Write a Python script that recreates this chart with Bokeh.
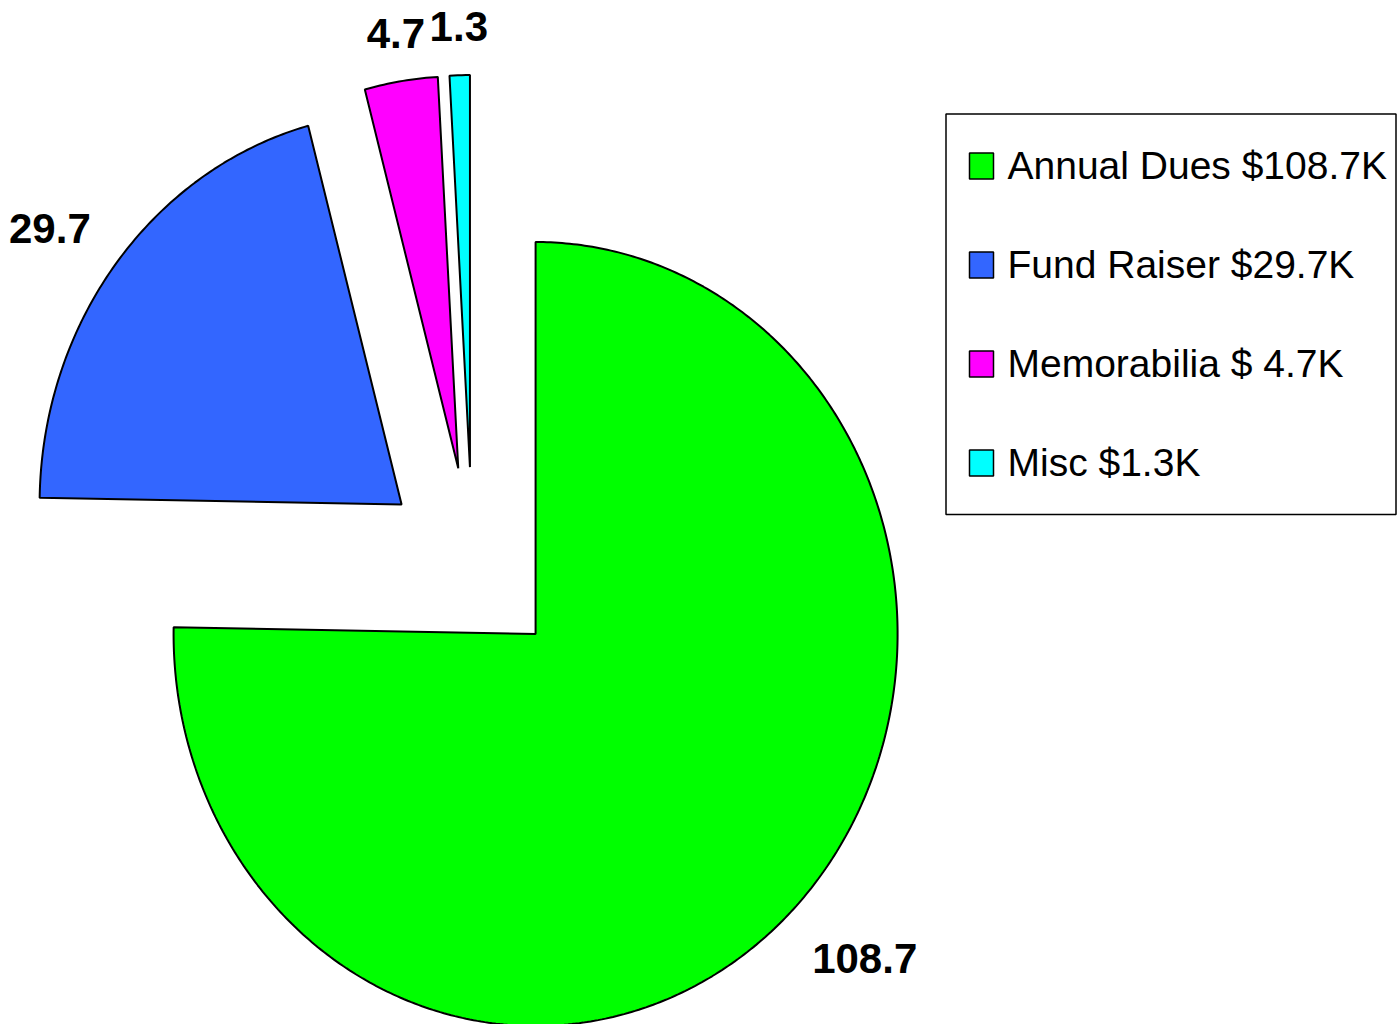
import numpy as np
from bokeh.plotting import figure
from bokeh.models import Range1d, ColumnDataSource
from bokeh.embed import file_html
from bokeh.resources import INLINE
from bokeh.core.properties import value

# ---- data ----
categories = ["Annual Dues", "Fund Raiser", "Memorabilia", "Misc"]
values = [108.7, 29.7, 4.7, 1.3]
data_labels = ["108.7", "29.7", "4.7", "1.3"]
legend_labels = ["Annual Dues $108.7K", "Fund Raiser $29.7K", "Memorabilia $ 4.7K", "Misc $1.3K"]
colors = ["#00FF00", "#3366FF", "#FF00FF", "#00FFFF"]

# ---- layout (pixel space) ----
W, H = 1397, 1024
CX, CY = 472.0, 564.0          # pie centre
RX, RY = 362.0, 392.0          # elliptical radii
EXPLODE = 90.0 / 362.0         # explosion as fraction of radius
LABEL_R = 1.09
FONT = "Liberation Sans"

p = figure(width=W, height=H, output_backend="svg", toolbar_location=None,
           x_range=Range1d(0, W), y_range=Range1d(H, 0),
           min_border=0, x_axis_location=None, y_axis_location=None)
p.grid.visible = False
p.outline_line_color = None
p.background_fill_color = "white"
p.border_fill_color = "white"

total = float(sum(values))
cum = np.concatenate([[0.0], np.cumsum(values)]) / total * 2 * np.pi

xs, ys = [], []
label_info = []
for i, v in enumerate(values):
    t0, t1 = cum[i], cum[i + 1]
    mid = 0.5 * (t0 + t1)
    ax = CX + EXPLODE * RX * np.sin(mid)
    ay = CY - EXPLODE * RY * np.cos(mid)
    n = max(3, int(np.ceil((t1 - t0) / (2 * np.pi) * 600)))
    th = np.linspace(t0, t1, n)
    px = np.concatenate([[ax], ax + RX * np.sin(th), [ax]])
    py = np.concatenate([[ay], ay - RY * np.cos(th), [ay]])
    xs.append(list(px))
    ys.append(list(py))
    dx, dy = np.sin(mid), -np.cos(mid)
    lx = ax + LABEL_R * RX * dx
    ly = ay + LABEL_R * RY * dy
    align = "left" if dx > 0.3 else ("right" if dx < -0.3 else "center")
    base = "top" if dy > 0.3 else "alphabetic"
    yoff = 5 if dy > 0.3 else -13
    label_info.append((lx, ly, align, base, yoff))

src = ColumnDataSource(dict(xs=xs, ys=ys, color=colors, name=categories))
p.patches("xs", "ys", source=src, fill_color="color", line_color="black", line_width=2)

for (lx, ly, align, base, yoff), txt in zip(label_info, data_labels):
    p.text(x=[lx], y=[ly], text=[txt], text_font=value(FONT), text_font_style="bold",
           text_font_size="42px", text_align=align, text_baseline=base,
           y_offset=yoff, text_color="black")

# ---- legend ----
LEG_L, LEG_R, LEG_T, LEG_B = 945.5, 1395.5, 113.5, 514.0
p.quad(left=[LEG_L], right=[LEG_R], top=[LEG_T], bottom=[LEG_B],
       fill_color="white", line_color="black", line_width=1.5)
ly0, lstep = 165.5, 99.0
ycent = [ly0 + i * lstep for i in range(len(categories))]
p.rect(x=[981.0] * len(categories), y=ycent, width=24, height=26,
       fill_color=colors, line_color="black", line_width=1.5)
p.text(x=[1007.0] * len(categories), y=[y - 1 for y in ycent], text=legend_labels,
       text_font=value(FONT), text_font_size="39px",
       text_align="left", text_baseline="middle", text_color="black")

open("out.html", "w").write(file_html(p, INLINE))
